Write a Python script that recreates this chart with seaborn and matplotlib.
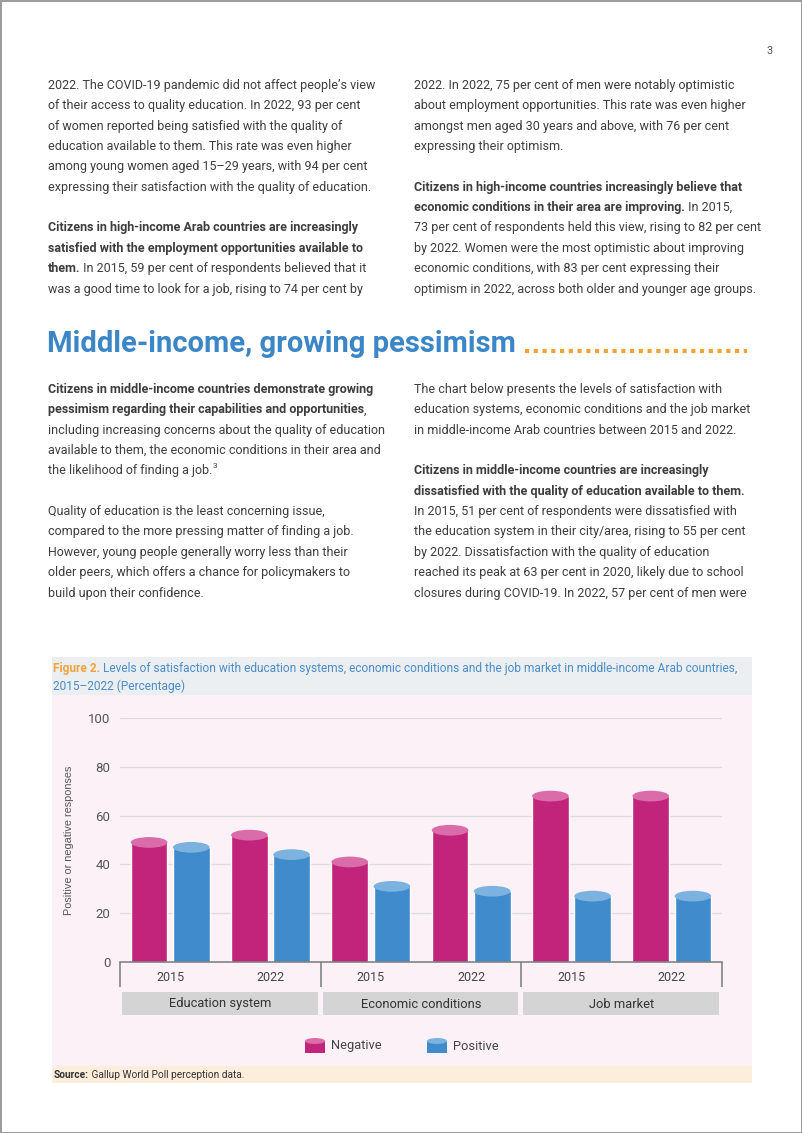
import pandas as pd
import matplotlib
matplotlib.use("Agg")
import matplotlib.pyplot as plt
import matplotlib.transforms as mtransforms
from matplotlib import font_manager
from matplotlib.patches import Rectangle, Ellipse
import seaborn as sns

# chart values
groups = ["Education system", "Economic conditions", "Job market"]
years = ["2015", "2022"]
negative = [49, 52, 41, 54, 68, 68]
positive = [47, 44, 31, 29, 27, 27]

# page text
top_left = [
    [("2022. The COVID-19 pandemic did not affect people’s view", False)],
    [("of their access to quality education. In 2022, 93 per cent", False)],
    [("of women reported being satisfied with the quality of", False)],
    [("education available to them. This rate was even higher", False)],
    [("among young women aged 15–29 years, with 94 per cent", False)],
    [("expressing their satisfaction with the quality of education.", False)],
    [],
    [("Citizens in high-income Arab countries are increasingly", True)],
    [("satisfied with the employment opportunities available to", True)],
    [("them.", True), (" In 2015, 59 per cent of respondents believed that it", False)],
    [("was a good time to look for a job, rising to 74 per cent by", False)],
]
top_right = [
    [("2022. In 2022, 75 per cent of men were notably optimistic", False)],
    [("about employment opportunities. This rate was even higher", False)],
    [("amongst men aged 30 years and above, with 76 per cent", False)],
    [("expressing their optimism.", False)],
    [],
    [("Citizens in high-income countries increasingly believe that", True)],
    [("economic conditions in their area are improving.", True), (" In 2015,", False)],
    [("73 per cent of respondents held this view, rising to 82 per cent", False)],
    [("by 2022. Women were the most optimistic about improving", False)],
    [("economic conditions, with 83 per cent expressing their", False)],
    [("optimism in 2022, across both older and younger age groups.", False)],
]
low_left = [
    [("Citizens in middle-income countries demonstrate growing", True)],
    [("pessimism regarding their capabilities and opportunities", True), (",", False)],
    [("including increasing concerns about the quality of education", False)],
    [("available to them, the economic conditions in their area and", False)],
    [("the likelihood of finding a job.", False)],
    [],
    [("Quality of education is the least concerning issue,", False)],
    [("compared to the more pressing matter of finding a job.", False)],
    [("However, young people generally worry less than their", False)],
    [("older peers, which offers a chance for policymakers to", False)],
    [("build upon their confidence.", False)],
]
low_right = [
    [("The chart below presents the levels of satisfaction with", False)],
    [("education systems, economic conditions and the job market", False)],
    [("in middle-income Arab countries between 2015 and 2022.", False)],
    [],
    [("Citizens in middle-income countries are increasingly", True)],
    [("dissatisfied with the quality of education available to them.", True)],
    [("In 2015, 51 per cent of respondents were dissatisfied with", False)],
    [("the education system in their city/area, rising to 55 per cent", False)],
    [("by 2022. Dissatisfaction with the quality of education", False)],
    [("reached its peak at 63 per cent in 2020, likely due to school", False)],
    [("closures during COVID-19. In 2022, 57 per cent of men were", False)],
]

PINK = "#c2247c"
PINK_TOP = "#d96ca9"
BLUE = "#3f8bcb"
BLUE_TOP = "#7cb2e0"
TXT = "#3d3d3d"

sns.set_style("white")
have = {f.name for f in font_manager.fontManager.ttflist}
if "Liberation Sans Narrow" in have:
    FONT, BODY = "Liberation Sans Narrow", 10.5
else:
    FONT, BODY = "Roboto", 9.0
plt.rcParams["font.family"] = [FONT, "DejaVu Sans"]

W, H = 802, 1133
fig = plt.figure(figsize=(W / 100, H / 100), dpi=100)
fig.patch.set_facecolor("white")

# full page axes in pixel coordinates (y down)
bg = fig.add_axes([0, 0, 1, 1], zorder=0)
bg.set_xlim(0, W)
bg.set_ylim(H, 0)
bg.axis("off")
renderer = fig.canvas.get_renderer()


def write(x, y, segs, size=BODY, color=TXT):
    for s, bold in segs:
        t = bg.text(x, y, s, fontsize=size, color=color, va="baseline", ha="left",
                    fontweight="bold" if bold else "normal")
        x += t.get_window_extent(renderer).width
    return x


def block(x, y0, lines, step=20.35):
    ends = []
    for i, segs in enumerate(lines):
        ends.append(write(x, y0 + i * step, segs) if segs else x)
    return ends


# page frame and number
bg.add_patch(Rectangle((0.5, 0.5), W - 1, H - 1, fill=False, ec="#8a8a8a", lw=1.2))
bg.text(770, 51, "3", fontsize=8, color="#555555", ha="center", va="center")

block(48, 89, top_left)
block(414, 89, top_right)

# section heading with dotted leader
bg.text(47, 352, "Middle-income, growing pessimism", fontsize=21, fontweight="bold",
        color="#3a86c6", va="baseline", ha="left")
bg.plot([525, 747], [351, 351], color="#f0a435", lw=3, linestyle=(0, (1, 1.1)),
        dash_capstyle="butt", solid_capstyle="butt")

ends = block(48, 393, low_left)
bg.text(ends[4] + 0.5, 393 + 4 * 20.35 - 6, "3", fontsize=6, color=TXT, va="baseline")
block(414, 393, low_right)

# figure panel backgrounds
bg.add_patch(Rectangle((52, 657), 700, 38, color="#eceff2", lw=0))
bg.add_patch(Rectangle((52, 695), 700, 371, color="#fcf1f7", lw=0))
bg.add_patch(Rectangle((52, 1066), 700, 17, color="#fdeddb", lw=0))

write(53, 672, [("Figure 2.", True), (" Levels of satisfaction with education systems, economic conditions "
                                        "and the job market in middle-income Arab countries,", False)],
      size=8.6, color="#4a8cc8")
bg.texts[-2].set_color("#f2a13b")
write(53, 690, [("2015–2022 (Percentage)", False)], size=8.6, color="#4a8cc8")
write(54, 1078, [("Source:", True), (" Gallup World Poll perception data.", False)], size=7.3, color="#333333")

# chart
rows = []
for i, g in enumerate(groups):
    for j, y in enumerate(years):
        slot = f"{g} {y}"
        rows.append({"slot": slot, "response": "Negative", "value": negative[i * 2 + j]})
        rows.append({"slot": slot, "response": "Positive", "value": positive[i * 2 + j]})
df = pd.DataFrame(rows)
order = [f"{g} {y}" for g in groups for y in years]

x0, x1, y0, y1 = 120, 722, 962, 718
ax = fig.add_axes([x0 / W, 1 - y0 / H, (x1 - x0) / W, (y0 - y1) / H], zorder=2)
ax.set_facecolor("none")
sns.barplot(data=df, x="slot", y="value", hue="response", order=order,
            hue_order=["Negative", "Positive"], palette={"Negative": PINK, "Positive": BLUE},
            width=0.84, gap=0.13, saturation=1, legend=False, ax=ax, zorder=3)

# cylinder tops
for p in list(ax.patches):
    top = PINK_TOP if matplotlib.colors.to_hex(p.get_facecolor()) == PINK else BLUE_TOP
    ax.add_patch(Ellipse((p.get_x() + p.get_width() / 2, p.get_height()), p.get_width(), 4.4,
                         color=top, zorder=4, lw=0))

ax.set_xlim(-0.5, 5.5)
ax.set_ylim(0, 100)
ax.set_yticks([0, 20, 40, 60, 80, 100])
ax.yaxis.grid(True, color="#dcdcdc", lw=0.9)
ax.set_axisbelow(True)
for s in ["top", "right", "left"]:
    ax.spines[s].set_visible(False)
ax.spines["bottom"].set_color("#7a7a7a")
ax.spines["bottom"].set_linewidth(1.1)
ax.spines["bottom"].set_zorder(5)

ax.set_xticks(range(6))
ax.set_xticklabels(years * 3)
ax.set_xticks([0.5, 2.5, 4.5], minor=True)
ax.tick_params(axis="x", which="both", length=2.5, width=1, color="#7a7a7a", direction="out")
ax.tick_params(axis="x", which="major", pad=4, labelsize=9, labelcolor="#444444")
ax.tick_params(axis="y", length=0, pad=7, labelsize=9.5, labelcolor="#555555")
ax.set_xlabel("")
ax.set_ylabel("Positive or negative responses", fontsize=7.8, color="#555555",
              family=["Liberation Sans", "DejaVu Sans"])
ax.yaxis.set_label_coords((74 - x0) / (x1 - x0), 0.5)

# group separators and category boxes under the axis
tr = mtransforms.blended_transform_factory(ax.transData, ax.transAxes)
span = y0 - y1
ax.vlines([-0.5, 1.5, 3.5, 5.5], -25 / span, 0, transform=tr, colors="#7a7a7a", lw=1.1, clip_on=False)
for i, g in enumerate(groups):
    left = 2 * i - 0.5
    ax.add_patch(Rectangle((left + 0.02, -53 / span), 1.95, 23 / span, transform=tr,
                           color="#d4d4d4", lw=0, clip_on=False))
    ax.text(left + 1, -42 / span, g, transform=tr, ha="center", va="center",
            fontsize=9.3, color="#333333")

# legend with small cylinder icons
for x, label, body, top in [(305, "Negative", PINK, PINK_TOP), (427, "Positive", BLUE, BLUE_TOP)]:
    bg.add_patch(Rectangle((x, 1041), 20, 12, color=body, lw=0))
    bg.add_patch(Ellipse((x + 10, 1041), 20, 6, color=top, lw=0))
    bg.text(x + 26, 1046, label, fontsize=9.3, color="#444444", va="center", ha="left")

fig.savefig("out.png", dpi=100)
